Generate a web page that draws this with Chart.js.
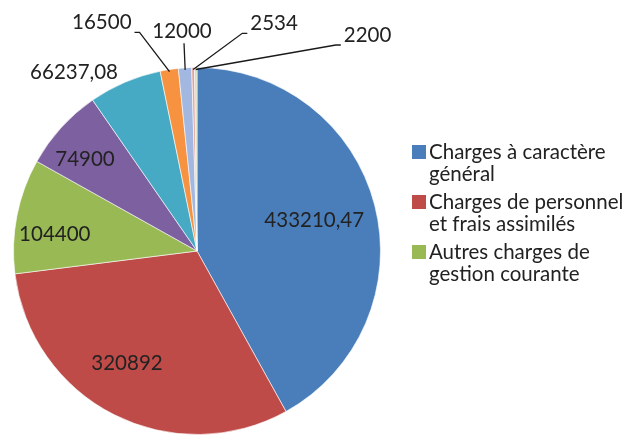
<!DOCTYPE html>
<html>
<head>
<meta charset="utf-8">
<script src="https://cdn.jsdelivr.net/npm/chart.js@4.4.0/dist/chart.umd.min.js"></script>
<style>
  html, body { margin: 0; padding: 0; background: #fff; }
  #wrap { width: 632px; height: 436px; }
</style>
</head>
<body>
<div id="wrap"><canvas id="pie" width="632" height="436"></canvas></div>
<script>
// Données du graphique
const categories = [
    'Charges à caractère général',
    'Charges de personnel et frais assimilés',
    'Autres charges de gestion courante',
    'Charges financières',
    'Atténuations de produits',
    'Charges exceptionnelles',
    'Dotations aux provisions',
    'Dépenses imprévues',
    'Opérations d\'ordre'
];
const values = [433210.47, 320892, 104400, 74900, 66237.08, 16500, 12000, 2534, 2200];
const colors = ['#4A7EBB', '#BE4B48', '#98B954', '#7D60A0', '#46AAC5', '#F69240', '#A2B8E0', '#E3A09C', '#D3DDB8'];

// Seules les 3 premières entrées tiennent dans la légende
const legendCount = 3;

// Placement des étiquettes : angle (degrés depuis le haut, sens horaire, null = milieu de la part),
// facteur de rayon, type de trait de rappel
const labelPlacement = [
    { a: null,  r: 0.66, leader: null },
    { a: 212,   r: 0.72, leader: null },
    { a: 276.5, r: 0.78, leader: null },
    { a: 309.4, r: 0.79, leader: null },
    { a: 325.4, r: 1.18, leader: null },
    { a: 337.4, r: 1.35, leader: 'left' },
    { a: 356.1, r: 1.20, leader: 'below' },
    { a: 18.7,  r: 1.31, leader: 'right' },
    { a: 38.3,  r: 1.50, leader: 'right' }
];

const FONT = '20.5px Lato';
const TEXT_COLOR = '#222';

function formatValue(v) {
    return String(v).replace('.', ',');
}

// Étiquettes de valeurs + traits de rappel
const sliceLabels = {
    id: 'sliceLabels',
    afterDatasetsDraw(chart) {
        const ctx = chart.ctx;
        const meta = chart.getDatasetMeta(0);
        ctx.save();
        ctx.font = FONT;
        ctx.fillStyle = TEXT_COLOR;
        ctx.strokeStyle = '#1a1a1a';
        ctx.lineWidth = 1.3;
        ctx.textAlign = 'center';
        ctx.textBaseline = 'middle';
        meta.data.forEach((arc, i) => {
            const p = labelPlacement[i];
            const mid = (arc.startAngle + arc.endAngle) / 2;
            const ang = p.a === null ? mid : (p.a - 90) * Math.PI / 180;
            const r = arc.outerRadius * p.r;
            const x = arc.x + Math.cos(ang) * r;
            const y = arc.y + Math.sin(ang) * r;
            const text = formatValue(values[i]);
            ctx.fillText(text, x, y);

            if (p.leader) {
                const ex = arc.x + Math.cos(mid) * (arc.outerRadius - 2);
                const ey = arc.y + Math.sin(mid) * (arc.outerRadius - 2);
                const w = ctx.measureText(text).width;
                ctx.beginPath();
                if (p.leader === 'below') {
                    ctx.moveTo(x + 2, y + 12);
                    ctx.lineTo(ex, ey);
                } else {
                    const side = p.leader === 'left' ? 1 : -1;
                    const ax = x + side * (w / 2 + 3);
                    ctx.moveTo(ax, y + 10);
                    ctx.lineTo(ax + side * 5, y + 10);
                    ctx.lineTo(ex, ey);
                }
                ctx.stroke();
            }
        });
        ctx.restore();
    }
};

// Légende à droite, découpée en lignes
const sideLegend = {
    id: 'sideLegend',
    afterDraw(chart) {
        const ctx = chart.ctx;
        ctx.save();
        ctx.font = FONT;
        ctx.textBaseline = 'middle';
        ctx.textAlign = 'left';
        const maxW = 210;
        let y = 152;
        for (let i = 0; i < legendCount; i++) {
            const words = categories[i].split(' ');
            const lines = [];
            let cur = '';
            words.forEach(wd => {
                const test = cur ? cur + ' ' + wd : wd;
                if (ctx.measureText(test).width > maxW && cur) {
                    lines.push(cur);
                    cur = wd;
                } else {
                    cur = test;
                }
            });
            lines.push(cur);

            ctx.fillStyle = colors[i];
            ctx.fillRect(412, y - 7, 14, 14);
            ctx.fillStyle = TEXT_COLOR;
            lines.forEach((ln, k) => ctx.fillText(ln, 429, y + k * 22));
            y += 50;
        }
        ctx.restore();
    }
};

const chart = new Chart(document.getElementById('pie'), {
    type: 'pie',
    data: {
        labels: categories,
        datasets: [{
            data: values,
            backgroundColor: colors,
            borderColor: 'rgba(255,255,255,0.6)',
            borderWidth: 1
        }]
    },
    options: {
        responsive: false,
        animation: false,
        layout: {
            padding: { left: 13, right: 251, top: 67, bottom: 1 }
        },
        plugins: {
            legend: { display: false },
            tooltip: { enabled: false }
        }
    },
    plugins: [sliceLabels, sideLegend]
});
</script>
</body>
</html>
